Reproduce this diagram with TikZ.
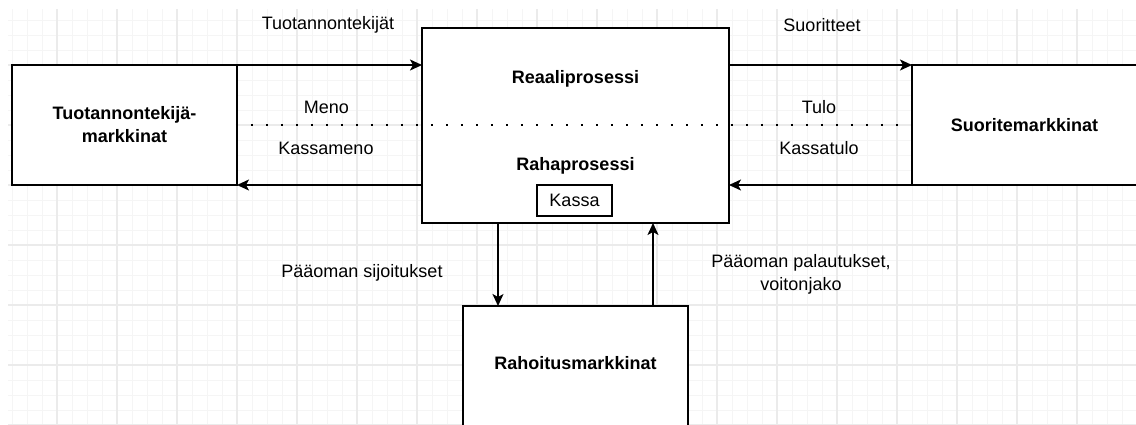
\documentclass[tikz,border=0pt]{standalone}
\usepackage{fontspec}
\setmainfont{Liberation Sans}
\usetikzlibrary{arrows.meta}
\definecolor{gridminor}{HTML}{F5F5F5}
\definecolor{gridmajor}{HTML}{EBEBEB}
\tikzset{
  txt/.style={font=\fontsize{18}{23}\selectfont},
  boldtxt/.style={font=\fontsize{18}{23}\selectfont\bfseries},
  box/.style={draw=black, fill=white, line width=1.5pt, outer sep=0pt, inner sep=0pt,
    align=center, boldtxt},
  label/.style={inner sep=0pt, align=center, txt},
  flow/.style={line width=1.5pt, -{Stealth[length=12pt,width=11pt,inset=3pt]}},
  divider/.style={line width=2.5pt, dash pattern=on 2.5pt off 12.5pt},
}
\begin{document}
\begin{tikzpicture}[x=1pt, y=-1pt]
\useasboundingbox (0,0) rectangle (1136,424);
\fill[white] (0,0) rectangle (1136,424);

% background grid
\begin{scope}
  \clip (8,9) rectangle (1136,424);
  \foreach \x in {12,27,...,1137} \draw[gridminor, line width=1pt] (\x,0) -- (\x,430);
  \foreach \y in {5,20,...,430} \draw[gridminor, line width=1pt] (0,\y) -- (1140,\y);
  \foreach \x in {57,117,...,1137} \draw[gridmajor, line width=1.2pt] (\x,0) -- (\x,430);
  \foreach \y in {5,65,...,430} \draw[gridmajor, line width=1.2pt] (0,\y) -- (1140,\y);
\end{scope}

% markets and the firm
\node[box, minimum width=225pt, minimum height=120pt] (L) at (124.5,125)
  {Tuotannontekij\"a-\\markkinat};
\node[box, minimum width=225pt, minimum height=120pt] (R) at (1024.5,125)
  {Suoritemarkkinat};
\node[box, minimum width=225pt, minimum height=120pt] (B) at (575.5,366) {};
\node[label, boldtxt] (Bt) at (575.5,363) {Rahoitusmarkkinat};
\node[box, minimum width=307pt, minimum height=195pt] (C) at (575.5,125.5) {};
\node[label, boldtxt] (Real) at (575.5,79) {Reaaliprosessi};
\node[label, boldtxt] (Raha) at (575.5,166) {Rahaprosessi};
\node[box, txt, minimum width=75pt, minimum height=31pt] (K) at (574.5,200.5) {Kassa};

% flows
\draw[flow] (L.north east) -- (L.north east -| C.west);
\draw[flow] (C.east |- R.north west) -- (R.north west);
\draw[flow] (C.west |- L.south east) -- (L.south east);
\draw[flow] (R.south west) -- (R.south west -| C.east);
\draw[flow] ([xshift=76pt]C.south west) -- ([xshift=35pt]B.north west);
\draw[flow] ([xshift=190pt]B.north west) -- ([xshift=231pt]C.south west);

% real / money divider
\draw[divider] ([xshift=-1.25pt]L.east) -- ([xshift=-10pt]R.west);

% flow labels
\node[label] (t1) at (328,25) {Tuotannontekij\"at};
\node[label] (t2) at (822,25) {Suoritteet};
\node[label] (t3) at (326.5,107) {Meno};
\node[label] (t4) at (326,148) {Kassameno};
\node[label] (t5) at (819,107) {Tulo};
\node[label] (t6) at (819,148) {Kassatulo};
\node[label] (t7) at (362,273) {P\"a\"aoman sijoitukset};
\node[label] (t8) at (801,274) {P\"a\"aoman palautukset,\\voitonjako};
\end{tikzpicture}
\end{document}
